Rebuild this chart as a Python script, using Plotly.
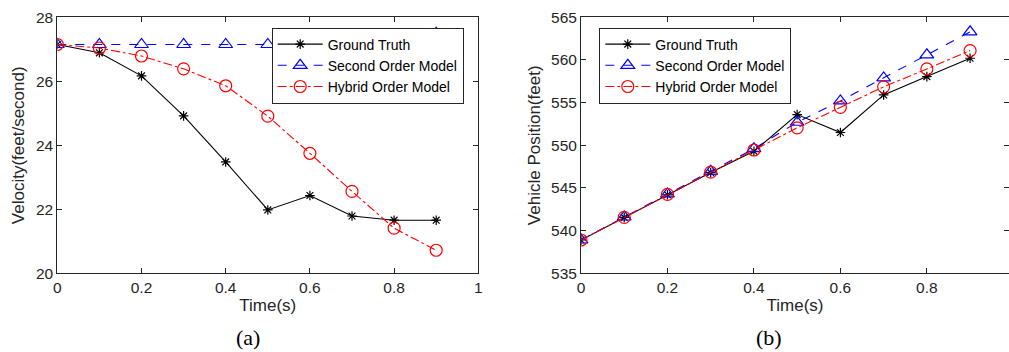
import plotly.graph_objects as go

time = [0, 0.1, 0.2, 0.3, 0.4, 0.5, 0.6, 0.7, 0.8, 0.9]

# (a) Velocity (feet/second)
vel_truth = [27.15, 26.89, 26.17, 24.92, 23.48, 21.98, 22.43, 21.79, 21.66, 21.66]
vel_second = [27.15, 27.15, 27.15, 27.15, 27.15, 27.15, 27.15, 27.2, 27.3, 27.5]
vel_hybrid = [27.15, 27.04, 26.79, 26.39, 25.86, 24.91, 23.75, 22.56, 21.41, 20.72]

# (b) Vehicle position (feet)
pos_truth = [538.9, 541.55, 544.2, 546.8, 549.3, 553.6, 551.5, 555.9, 558.05, 560.2]
pos_second = [538.9, 541.6, 544.3, 546.95, 549.6, 552.7, 555.2, 557.9, 560.6, 563.3]
pos_hybrid = [538.9, 541.55, 544.25, 546.85, 549.45, 552.05, 554.45, 556.85, 558.95, 561.1]

names = ["Ground Truth", "Second Order Model", "Hybrid Order Model"]

FONT = "Liberation Sans, Arial, sans-serif"
AXC = "#262626"

fig = go.Figure()

def add_series(xaxis, yaxis, legend, ys):
    styles = [
        dict(color="black", dash="solid", symbol="asterisk-open", size=8),
        dict(color="blue", dash="dash", symbol="triangle-up-open", size=12),
        dict(color="red", dash="dashdot", symbol="circle-open", size=12),
    ]
    for name, y, st in zip(names, ys, styles):
        fig.add_trace(go.Scatter(
            x=time, y=y, name=name, mode="lines+markers",
            xaxis=xaxis, yaxis=yaxis, legend=legend,
            line=dict(color=st["color"], dash=st["dash"], width=1.1),
            marker=dict(symbol=st["symbol"], size=st["size"],
                        color=st["color"], line=dict(color=st["color"], width=1.2)),
        ))

add_series("x", "y", "legend", [vel_truth, vel_second, vel_hybrid])
add_series("x2", "y2", "legend2", [pos_truth, pos_second, pos_hybrid])

axis_common = dict(
    showline=True, linecolor=AXC, linewidth=1, mirror="ticks",
    ticks="inside", ticklen=5, tickcolor=AXC, tickwidth=1,
    showgrid=False, zeroline=False, automargin=False,
    tickfont=dict(family=FONT, size=15.5, color=AXC),
)
TFONT = dict(family=FONT, size=17, color=AXC)

ydom = [1 - 273.3 / 352, 1 - 17.3 / 352]

LEGFONT = dict(family=FONT, size=14, color="black")

fig.update_layout(
    template="none",
    width=1009, height=352,
    margin=dict(l=0, r=0, t=0, b=0, pad=0),
    paper_bgcolor="white", plot_bgcolor="white",
    font=dict(family=FONT, color=AXC),
    xaxis=dict(domain=[57.3 / 1009, 478.3 / 1009], range=[0, 1],
               tickvals=[0, 0.2, 0.4, 0.6, 0.8, 1], ticktext=["0", "0.2", "0.4", "0.6", "0.8", "1"],
               title=dict(text="Time(s)", standoff=4, font=TFONT), anchor="y", **axis_common),
    yaxis=dict(domain=ydom, range=[20, 28], tickvals=[20, 22, 24, 26, 28],
               title=dict(text="Velocity(feet/second)", standoff=6, font=TFONT), anchor="x", **axis_common),
    xaxis2=dict(domain=[581 / 1009, 1.0], range=[0, 0.99],
                tickvals=[0, 0.2, 0.4, 0.6, 0.8], ticktext=["0", "0.2", "0.4", "0.6", "0.8"],
                title=dict(text="Time(s)", standoff=4, font=TFONT), anchor="y2", **axis_common),
    yaxis2=dict(domain=ydom, range=[535, 565], tickvals=[535, 540, 545, 550, 555, 560, 565],
                title=dict(text="Vehicle Position(feet)", standoff=6, font=TFONT), anchor="x2", **axis_common),
    legend=dict(x=271.7 / 1009, y=1 - 27.5 / 352, xanchor="left", yanchor="top",
                bgcolor="white", bordercolor=AXC, borderwidth=1,
                font=LEGFONT, tracegroupgap=0, itemwidth=45),
    legend2=dict(x=599.3 / 1009, y=1 - 27.5 / 352, xanchor="left", yanchor="top",
                 bgcolor="white", bordercolor=AXC, borderwidth=1,
                 font=LEGFONT, tracegroupgap=0, itemwidth=45),
    showlegend=True,
)

fig.add_annotation(text="(a)", xref="paper", yref="paper", x=248 / 1009, y=1 - 337 / 352,
                   showarrow=False, xanchor="center", yanchor="middle",
                   font=dict(family="Liberation Serif, Times New Roman, serif", size=22, color="black"))
fig.add_annotation(text="(b)", xref="paper", yref="paper", x=769 / 1009, y=1 - 337 / 352,
                   showarrow=False, xanchor="center", yanchor="middle",
                   font=dict(family="Liberation Serif, Times New Roman, serif", size=22, color="black"))

fig.write_html("out.html")
